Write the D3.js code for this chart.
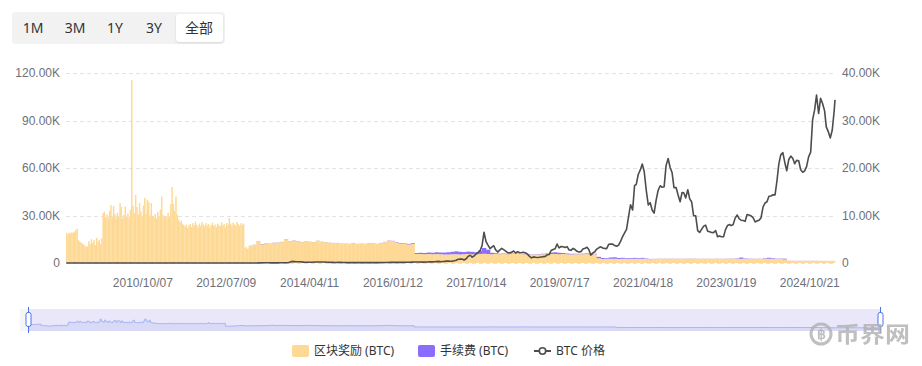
<!DOCTYPE html>
<html><head><meta charset="utf-8">
<script src="https://cdn.jsdelivr.net/npm/d3@7"></script>
<style>
body{margin:0;background:#fff;}
svg{display:block;font-family:"Microsoft YaHei","Noto Sans","Noto Sans CJK SC",sans-serif;}
</style></head><body>
<svg id="c" width="922" height="366"></svg>
<script>
// ---------- data ----------
const rangeButtons = ["1M", "3M", "1Y", "3Y", "全部"];
const xTickDates = ["2010/10/07", "2012/07/09", "2014/04/11", "2016/01/12", "2017/10/14", "2019/07/17", "2021/04/18", "2023/01/19", "2024/10/21"];
const leftTicks = [0, 30000, 60000, 90000, 120000];
const rightTicks = [0, 10000, 20000, 30000, 40000];
const legendNames = ["区块奖励 (BTC)", "手续费 (BTC)", "BTC 价格"];

// block reward (thousand BTC / day), one value per 10 days from 2009-02-27
const rewardEarly = [
  6.3, 6.1, 6.4, 6.2, 6.5, 6.3, 6.6, 6.9, 7.2, 4.8,
  4.5, 4.3, 4.1, 3.9, 3.6, 3.4, 3.5, 4.6, 3.9, 5.0,
  4.2, 4.8, 3.8, 5.3, 4.4, 4.9, 4.0, 5.2, 10.5, 10.8,
  9.6, 10.2, 9.4, 11.0, 12.2, 9.8, 12.0, 10.3, 9.5, 10.6,
  9.7, 12.6, 11.8, 9.4, 10.1, 11.9, 9.8, 10.4, 9.5, 11.2,
  38.5, 12.0, 10.5, 14.3, 11.8, 10.2, 12.6, 10.8, 9.9, 12.1,
  13.7, 10.4, 13.3, 12.8, 10.0, 12.6, 9.9, 9.7, 10.3, 9.4,
  10.8, 9.6, 11.2, 14.0, 10.1, 9.7, 9.9, 9.5, 10.6, 9.8,
  12.4, 16.0, 12.5, 11.0, 14.0, 10.2, 9.1, 8.6, 8.9, 8.2,
  8.0, 7.6, 8.1, 7.4, 7.9, 8.2, 7.6, 8.4, 7.9, 8.7,
  8.0, 7.5, 8.3, 7.8, 8.6, 8.1, 7.7, 8.4, 7.9, 8.2,
  7.4, 8.0, 8.5, 7.8, 8.1, 7.6, 8.3, 8.0, 7.7, 8.6,
  7.9, 8.2, 7.5, 8.4, 8.0, 9.5, 8.3, 7.8, 8.5, 8.1,
  7.9, 8.6, 8.2, 7.8, 8.4, 8.0, 8.3, 3.2, 3.4, 3.0
];
// block reward (thousand BTC / day), monthly from 2013-01
const rewardMonthly = [
  3.6, 3.8, 4.5, 3.9, 4.1, 4.0, 4.2, 4.3, 4.4, 5.0, 4.5, 4.7,
  4.6, 4.4, 4.6, 4.5, 4.4, 4.7, 4.5, 4.4, 4.3, 4.2, 4.2, 4.1,
  4.1, 4.0, 4.2, 4.0, 4.1, 4.0, 4.1, 4.1, 4.0, 4.2, 4.4, 4.7,
  4.6, 4.3, 4.1, 4.0, 3.9, 4.0, 1.9, 1.9, 1.85, 1.9, 1.85, 1.9,
  1.85, 1.8, 1.8, 1.85, 1.85, 1.8, 1.85, 1.9, 1.85, 1.8, 1.9, 1.95,
  1.9, 1.85, 1.9, 1.85, 1.9, 1.85, 1.9, 1.95, 1.9, 1.85, 1.8, 1.75,
  1.8, 1.8, 1.85, 1.85, 1.9, 1.9, 1.85, 1.9, 1.85, 1.8, 1.85, 1.85,
  1.85, 1.9, 1.8, 1.85, 1.0, 0.85, 0.9, 0.9, 0.9, 0.85, 0.9, 0.9,
  0.9, 0.9, 0.9, 0.9, 0.85, 0.8, 0.85, 0.9, 0.9, 0.9, 0.9, 0.9,
  0.9, 0.9, 0.9, 0.9, 0.9, 0.9, 0.9, 0.9, 0.9, 0.9, 0.9, 0.9,
  0.9, 0.9, 0.9, 0.9, 0.9, 0.9, 0.9, 0.9, 0.9, 0.9, 0.9, 0.9,
  0.9, 0.9, 0.9, 0.75, 0.45, 0.45, 0.45, 0.45, 0.45, 0.45, 0.45, 0.45,
  0.45, 0.45, 0.45, 0.45, 0.45
];
// fees (thousand BTC / day), monthly from 2013-01, stacked on the reward
const feeMonthly = [
  0.03, 0.04, 0.05, 0.08, 0.05, 0.05, 0.05, 0.04, 0.04, 0.04, 0.05, 0.05,
  0.03, 0.02, 0.02, 0.02, 0.02, 0.02, 0.02, 0.02, 0.02, 0.02, 0.02, 0.02,
  0.02, 0.02, 0.02, 0.02, 0.02, 0.02, 0.05, 0.04, 0.03, 0.03, 0.04, 0.05,
  0.06, 0.08, 0.1, 0.1, 0.12, 0.15, 0.2, 0.25, 0.25, 0.3, 0.3, 0.35,
  0.35, 0.4, 0.45, 0.5, 0.6, 0.55, 0.45, 0.5, 0.5, 0.45, 0.7, 1.2,
  0.9, 0.3, 0.15, 0.1, 0.1, 0.1, 0.08, 0.08, 0.06, 0.06, 0.06, 0.06,
  0.06, 0.08, 0.1, 0.15, 0.3, 0.35, 0.3, 0.2, 0.15, 0.12, 0.1, 0.08,
  0.1, 0.12, 0.12, 0.1, 0.3, 0.2, 0.15, 0.25, 0.3, 0.2, 0.2, 0.15,
  0.15, 0.18, 0.15, 0.18, 0.1, 0.05, 0.03, 0.03, 0.03, 0.03, 0.03, 0.03,
  0.03, 0.02, 0.03, 0.04, 0.03, 0.02, 0.02, 0.02, 0.02, 0.02, 0.03, 0.02,
  0.03, 0.04, 0.04, 0.08, 0.25, 0.08, 0.05, 0.03, 0.03, 0.03, 0.1, 0.2,
  0.12, 0.05, 0.06, 0.15, 0.03, 0.02, 0.02, 0.02, 0.02, 0.02, 0.02, 0.02,
  0.01, 0.01, 0.01, 0.01, 0.01
];
// BTC price (USD), monthly 2009-03 .. 2016-12
const priceMonthly = [
  0, 0, 0, 0, 0, 0, 0, 0, 0, 0,
  0, 0, 0, 0, 0, 0, 0.06, 0.07, 0.06, 0.1, 0.2, 0.25,
  0.3, 0.9, 0.9, 0.8, 3.5, 9, 15, 13, 8, 5, 3, 3,
  5, 6, 5, 5, 5, 5, 7, 9, 10, 12, 11, 12,
  13, 20, 33, 100, 120, 120, 90, 100, 135, 130, 200, 1000,
  750, 830, 550, 460, 450, 620, 630, 590, 480, 390, 330, 380,
  320, 220, 250, 250, 230, 225, 260, 285, 230, 240, 310, 360,
  430, 370, 440, 420, 450, 530, 670, 620, 570, 610, 700, 750
];
// BTC price (USD), on the 1st and 16th of each month from 2017-01
const priceHalfMonth = [
  1000, 830, 970, 1040, 1190, 1170, 1080, 1180, 1420, 1750, 2400, 2450, 2480, 1930, 2720, 4200, 4900, 3700, 4400, 5700, 6700, 7800, 10900, 19400,
  13500, 11300, 9100, 10200, 10900, 8300, 6900, 8100, 9200, 8400, 7500, 6500, 6400, 6700, 7600, 6300, 7200, 6500, 6600, 6800, 6350, 5600, 4200, 3250,
  3850, 3650, 3480, 3630, 3820, 4000, 4150, 5200, 5350, 7900, 8550, 9000, 12000, 9500, 10400, 10300, 9750, 10300, 8300, 8000, 9200, 8500, 7400, 6900,
  7200, 8800, 9350, 9900, 8550, 5000, 6400, 7100, 8800, 9600, 10200, 9500, 9230, 9100, 11800, 11900, 11900, 11000, 10600, 11300, 13800, 16700, 19000, 21300,
  29400, 36800, 33500, 49000, 49600, 55900, 58800, 62500, 57800, 46400, 36700, 38100, 33500, 31500, 39900, 45900, 48800, 47800, 48100, 61500, 66000, 60300, 57200, 47600,
  47700, 43100, 38700, 44500, 44400, 41100, 46300, 40500, 38500, 29800, 29800, 20400, 19300, 21200, 23300, 23900, 20100, 19700, 19300, 19200, 20500, 16600, 17100, 16600,
  16600, 21100, 23700, 24300, 23600, 24300, 28500, 30300, 28000, 27000, 26800, 26300, 30600, 30300, 29700, 28700, 25900, 26600, 27000, 28500, 35400, 37900, 38700, 42200,
  42300, 43100, 43000, 52100, 62400, 68300, 69700, 63500, 58300, 65200, 67500, 66200, 62700, 64800, 64600, 58900, 57300, 58200, 61000, 67000, 70000, 90600, 96500, 106000,
  94400, 104000, 100600, 96100, 86000, 83000, 79000, 84000, 96500
];
const priceLast = {date: "2025-05-07", value: 103000};

// ---------- setup ----------
const svg = d3.select("#c");
const parse = d3.utcParse("%Y-%m-%d");
const parseTick = d3.utcParse("%Y/%m/%d");
const viewStart = parse("2009-02-27"), viewEnd = parse("2025-05-07");
const dataStart = parse("2009-01-03");
const plot = {left: 66, right: 835, top: 73, bottom: 263};
const C = {reward: "#fed995", fee: "#8a6cff", price: "#4d4d4d", text: "#6e7079", grid: "#e3e3e3"};

const x = d3.scaleUtc().domain([viewStart, viewEnd]).range([plot.left, plot.right]);
const yL = d3.scaleLinear().domain([0, 120000]).range([plot.bottom, plot.top]);
const yR = d3.scaleLinear().domain([0, 40000]).range([plot.bottom, plot.top]);

// build records
const bars = [];
rewardEarly.forEach((v, i) => {
  const d0 = d3.utcDay.offset(viewStart, 10 * i);
  let d1 = d3.utcDay.offset(viewStart, 10 * (i + 1));
  if (i === rewardEarly.length - 1) d1 = parse("2013-01-01");
  bars.push({d0, d1, r: v * 1000, f: 0});
});
rewardMonthly.forEach((v, i) => {
  const d0 = d3.utcMonth.offset(parse("2013-01-01"), i);
  let d1 = d3.utcMonth.offset(d0, 1);
  if (d1 > viewEnd) d1 = viewEnd;
  bars.push({d0, d1, r: v * 1000, f: feeMonthly[i] * 1000});
});
const price = [];
priceMonthly.forEach((v, i) => price.push({d: d3.utcMonth.offset(parse("2009-03-01"), i), v}));
priceHalfMonth.forEach((v, i) => {
  const m = d3.utcMonth.offset(parse("2017-01-01"), Math.floor(i / 2));
  price.push({d: i % 2 ? d3.utcDay.offset(m, 15) : m, v});
});
price.push({d: parse(priceLast.date), v: priceLast.value});

// ---------- range buttons ----------
const defs = svg.append("defs");
const sh = defs.append("filter").attr("id", "bs").attr("x", "-20%").attr("y", "-20%").attr("width", "140%").attr("height", "160%");
sh.append("feDropShadow").attr("dx", 0).attr("dy", 1).attr("stdDeviation", 1.2).attr("flood-color", "#000").attr("flood-opacity", 0.12);
const btnG = svg.append("g");
btnG.append("rect").attr("x", 12).attr("y", 12).attr("width", 213).attr("height", 32).attr("rx", 4).attr("fill", "#f2f2f3");
const btnX = [33, 75, 115, 154, 199];
btnG.append("rect").attr("x", 176).attr("y", 14).attr("width", 47).attr("height", 28).attr("rx", 4).attr("fill", "#fff").attr("filter", "url(#bs)");
btnG.selectAll("text.b").data(rangeButtons).join("text").attr("class", "b")
  .attr("x", (d, i) => btnX[i]).attr("y", 28).attr("dy", "0.35em")
  .attr("text-anchor", "middle").attr("font-size", 14).attr("fill", "#333").text(d => d);

// ---------- grid & axes ----------
const gridG = svg.append("g");
gridG.selectAll("line").data(leftTicks).join("line")
  .attr("x1", plot.left).attr("x2", plot.right)
  .attr("y1", d => Math.round(yL(d)) + 0.5).attr("y2", d => Math.round(yL(d)) + 0.5)
  .attr("stroke", C.grid).attr("stroke-dasharray", "4,3");

const fmt = v => v === 0 ? "0" : (v / 1000).toFixed(2) + "K";
const axL = svg.append("g").attr("transform", `translate(${plot.left - 6},0)`)
  .call(d3.axisLeft(yL).tickValues(leftTicks).tickFormat(fmt).tickSize(0).tickPadding(0));
const axR = svg.append("g").attr("transform", `translate(${plot.right + 7},0)`)
  .call(d3.axisRight(yR).tickValues(rightTicks).tickFormat(fmt).tickSize(0).tickPadding(0));
const xTicks = xTickDates.map(s => parseTick(s));
const axB = svg.append("g").attr("transform", `translate(0,${plot.bottom + 20})`)
  .call(d3.axisBottom(x).tickValues(xTicks).tickFormat(d3.utcFormat("%Y/%m/%d")).tickSize(0).tickPadding(0));
[axL, axR, axB].forEach(a => {
  a.select(".domain").remove();
  a.selectAll("text").attr("fill", C.text).attr("font-size", 12).attr("font-family", null);
});
axB.selectAll("text").attr("dy", "0.35em");

// ---------- bars ----------
const barG = svg.append("g");
barG.selectAll("rect.r").data(bars).join("rect").attr("class", "r")
  .attr("x", d => x(d.d0)).attr("width", d => Math.max(0, x(d.d1) - x(d.d0) + 0.2))
  .attr("y", d => yR(d.r)).attr("height", d => yR(0) - yR(d.r))
  .attr("fill", C.reward);
barG.selectAll("rect.f").data(bars.filter(d => d.f > 0)).join("rect").attr("class", "f")
  .attr("x", d => x(d.d0)).attr("width", d => Math.max(0, x(d.d1) - x(d.d0) + 0.2))
  .attr("y", d => yR(d.r + d.f)).attr("height", d => yR(d.r) - yR(d.r + d.f))
  .attr("fill", C.fee);

// ---------- price line ----------
svg.append("path").datum(price)
  .attr("fill", "none").attr("stroke", C.price).attr("stroke-width", 1.6).attr("stroke-linejoin", "round")
  .attr("d", d3.line().x(d => x(d.d)).y(d => yL(d.v)));

// ---------- data zoom slider ----------
const sl = {left: 20, right: 880, top: 309, bottom: 331};
const sx = d3.scaleUtc().domain([dataStart, viewEnd]).range([sl.left, sl.right]);
const sy = d3.scaleLinear().domain([0, 40000]).range([328, 306]).clamp(true);
const slG = svg.append("g");
slG.append("rect").attr("x", sl.left).attr("y", sl.top).attr("width", sl.right - sl.left).attr("height", sl.bottom - sl.top).attr("fill", "#f6f6f9");
slG.append("rect").attr("x", sx(viewStart)).attr("y", sl.top).attr("width", sx(viewEnd) - sx(viewStart)).attr("height", sl.bottom - sl.top).attr("fill", "#e9e7f9");
const shadowPts = bars.map(d => ({d: d.d0, v: Math.min(d.r, 16000)}));
slG.append("path").datum(shadowPts).attr("fill", "#d9daf6")
  .attr("d", d3.area().x(d => sx(d.d)).y0(sl.bottom).y1(d => sy(d.v)).curve(d3.curveStepAfter));
slG.append("path").datum(shadowPts).attr("fill", "none").attr("stroke", "#a9b6f0").attr("stroke-width", 1)
  .attr("d", d3.line().x(d => sx(d.d)).y(d => sy(d.v)).curve(d3.curveStepAfter));
[viewStart, viewEnd].forEach(d => {
  const hx = Math.round(sx(d)) + 0.5;
  slG.append("line").attr("x1", hx).attr("x2", hx).attr("y1", 307).attr("y2", 333).attr("stroke", "#4a74ee").attr("stroke-width", 1);
  slG.append("rect").attr("x", hx - 2.5).attr("y", 312.5).attr("width", 5).attr("height", 14).attr("rx", 2)
    .attr("fill", "#fff").attr("stroke", "#4a74ee").attr("stroke-width", 1);
});

// ---------- legend ----------
const lg = svg.append("g").attr("font-size", 12).attr("fill", "#333");
const legX = [292, 418, 534];
lg.append("rect").attr("x", legX[0]).attr("y", 345).attr("width", 17).attr("height", 12).attr("rx", 2).attr("fill", C.reward);
lg.append("rect").attr("x", legX[1]).attr("y", 345).attr("width", 17).attr("height", 12).attr("rx", 2).attr("fill", C.fee);
lg.append("line").attr("x1", legX[2]).attr("x2", legX[2] + 17).attr("y1", 351).attr("y2", 351).attr("stroke", C.price).attr("stroke-width", 2);
lg.append("circle").attr("cx", legX[2] + 8.5).attr("cy", 351).attr("r", 3.2).attr("fill", "#fff").attr("stroke", C.price).attr("stroke-width", 1.6);
lg.selectAll("text").data(legendNames).join("text")
  .attr("x", (d, i) => legX[i] + 22).attr("y", 351).attr("dy", "0.35em").text(d => d);

// ---------- watermark ----------
const wm = svg.append("g").attr("opacity", 0.8);
wm.append("circle").attr("cx", 821).attr("cy", 334).attr("r", 10).attr("fill", "none").attr("stroke", "#b0b0b0").attr("stroke-width", 3);
wm.append("text").attr("x", 821).attr("y", 334).attr("dy", "0.36em").attr("text-anchor", "middle")
  .attr("font-size", 14).attr("font-weight", "bold").attr("fill", "#b0b0b0").text("฿");
wm.append("text").attr("x", 835).attr("y", 334).attr("dy", "0.38em")
  .attr("font-family", "'Noto Sans CJK SC'").attr("font-size", 22).attr("font-weight", "bold").attr("fill", "#b0b0b0")
  .attr("textLength", 75).attr("lengthAdjust", "spacingAndGlyphs").text("币界网");
</script>
</body></html>
